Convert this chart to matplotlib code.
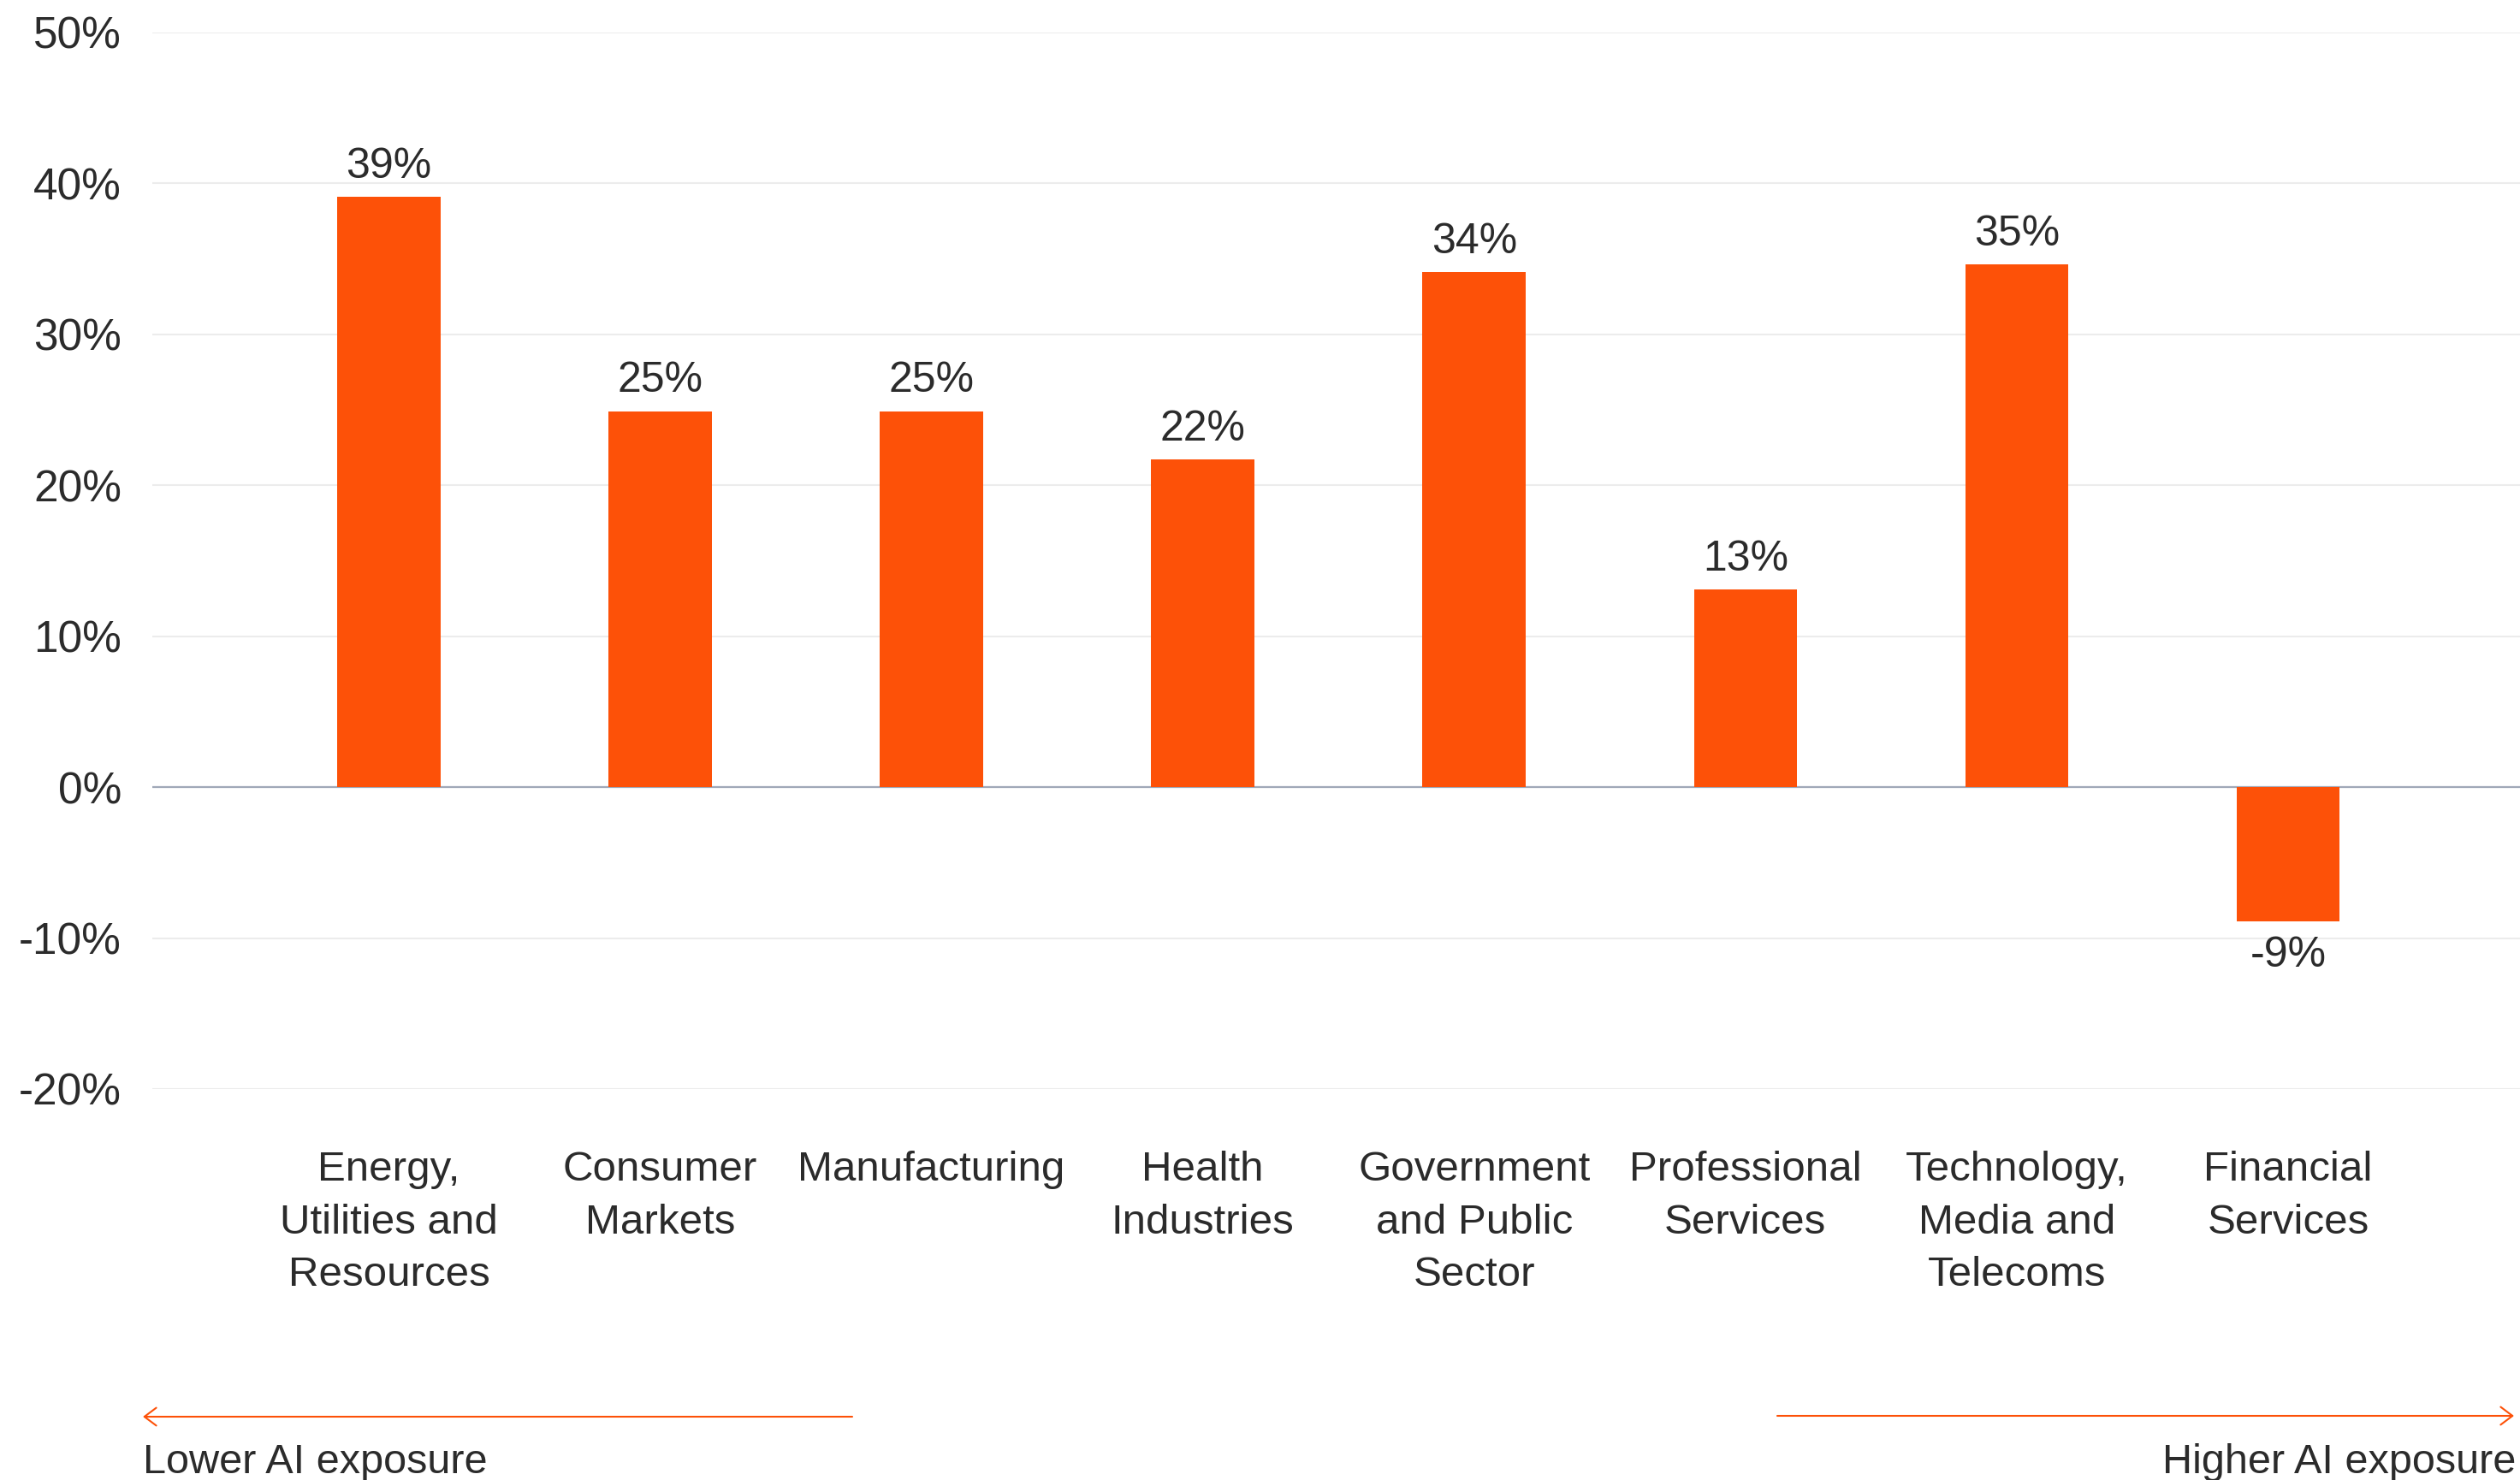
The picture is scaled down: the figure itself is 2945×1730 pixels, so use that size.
import matplotlib.pyplot as plt
import numpy as np

plt.rcParams['font.family'] = ['Liberation Sans', 'DejaVu Sans']

# Sectors ordered from lower to higher AI exposure
sectors = ['Energy,\nUtilities and\nResources', 'Consumer\nMarkets', 'Manufacturing',
           'Health\nIndustries', 'Government\nand Public\nSector', 'Professional\nServices',
           'Technology,\nMedia and\nTelecoms', 'Financial\nServices']
growth = [39.1, 24.9, 24.9, 21.7, 34.1, 13.1, 34.6, -8.9]
y_ticks = [-20, -10, 0, 10, 20, 30, 40, 50]

orange = '#FD5108'
text_color = '#2b2b2b'
W, H = 2945, 1730

fig = plt.figure(figsize=(W / 100, H / 100), dpi=100)
ax = fig.add_axes([178 / W, 1 - 1273 / H, 1 - 178 / W, (1273 - 37.7) / H])

x = np.arange(len(sectors))
bars = ax.bar(x, growth, width=0.38, color=orange, zorder=3)

# Value labels above (or below for negatives) each bar
for xi, v in zip(x, growth):
    if v >= 0:
        ax.annotate(f'{v:.0f}%', (xi, v), xytext=(0, 16), textcoords='offset points',
                    ha='center', va='baseline', fontsize=36, color=text_color)
    else:
        ax.annotate(f'{v:.0f}%', (xi, v), xytext=(0, -12), textcoords='offset points',
                    ha='center', va='top', fontsize=36, color=text_color)

ax.set_xlim(-0.872, 7.855)
ax.set_ylim(-20, 50)
ax.set_yticks(y_ticks)
ax.set_yticklabels([f'{t}%' for t in y_ticks])
ax.set_xticks(x)
ax.set_xticklabels(sectors, linespacing=1.47)

ax.yaxis.grid(True, color='#ececec', lw=1.5)
ax.set_axisbelow(True)
ax.axhline(0, color='#a0a8b8', lw=1.6, zorder=2)

for s in ax.spines.values():
    s.set_visible(False)
ax.tick_params(axis='y', length=0, pad=26, labelsize=37, labelcolor=text_color)
ax.tick_params(axis='x', length=0, pad=52, labelsize=35.5, labelcolor=text_color)

# Exposure direction arrows along the bottom
arrow_style = dict(arrowstyle='->, head_length=1.0, head_width=0.75', color=orange,
                   lw=1.5, shrinkA=0, shrinkB=0)
fig.add_artist(plt.matplotlib.patches.FancyArrowPatch(
    (996, 74), (167, 74), transform=None, mutation_scale=10, **arrow_style))
fig.add_artist(plt.matplotlib.patches.FancyArrowPatch(
    (2077, 75), (2938, 75), transform=None, mutation_scale=10, **arrow_style))

fig.text(167 / W, 8 / H, 'Lower AI exposure', ha='left', va='baseline',
         fontsize=35, color=text_color)
fig.text(2940 / W, 8 / H, 'Higher AI exposure', ha='right', va='baseline',
         fontsize=35, color=text_color)

fig.savefig('out.png', dpi=100, facecolor='white')
